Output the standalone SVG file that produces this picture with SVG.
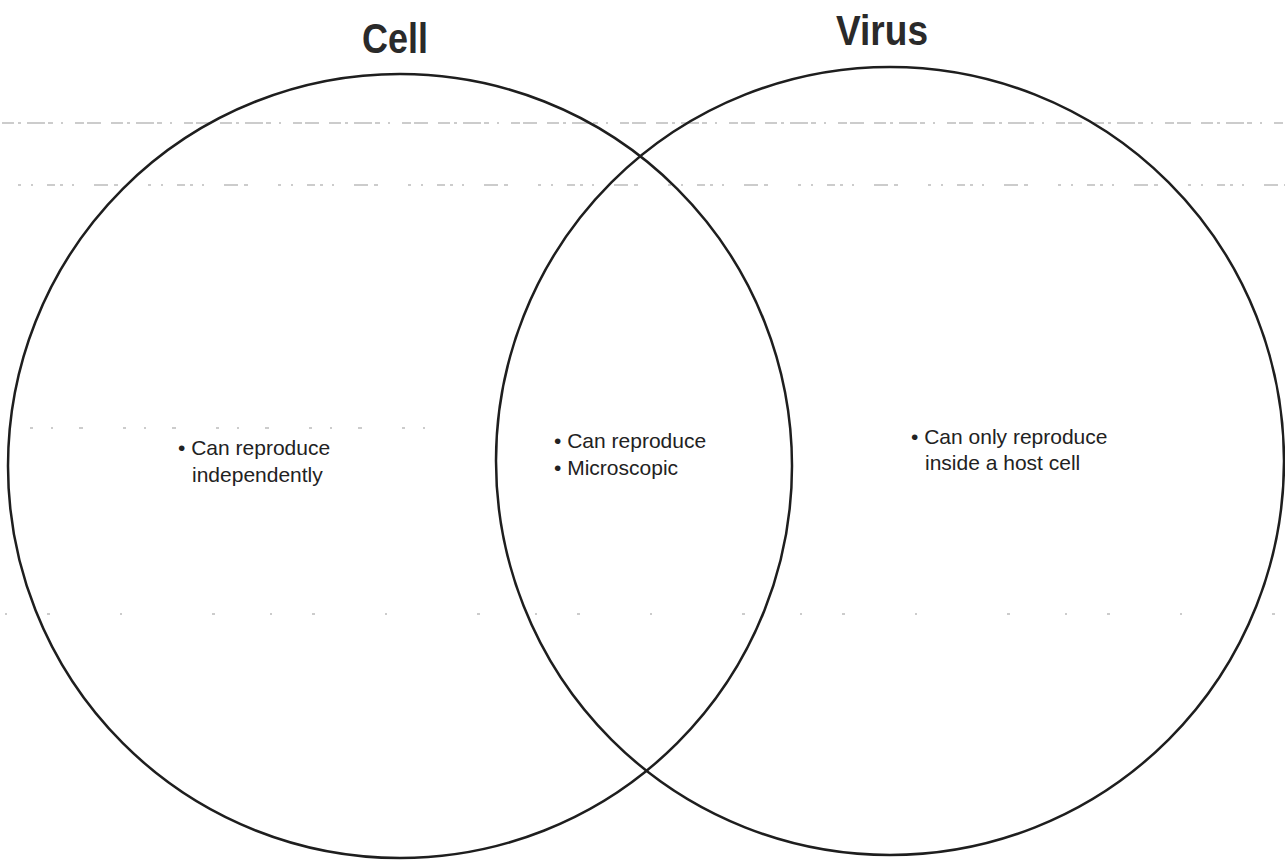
<svg xmlns="http://www.w3.org/2000/svg" width="1285" height="862" viewBox="0 0 1285 862">
<style>
.title{font-family:"Liberation Sans",Arial,sans-serif;font-weight:bold;font-size:42px;fill:#2a2a2a}
.body{font-family:"Liberation Sans",Arial,sans-serif;font-size:21px;fill:#222}
.circle{fill:none;stroke:#1e1e1e;stroke-width:2.5}
.scan{stroke:#9a9a9a;stroke-width:1.2;fill:none}
</style>
<rect width="1285" height="862" fill="#ffffff"/>
<g id="scanlines">
<line class="scan" x1="2" y1="123" x2="1285" y2="123" stroke-dasharray="12 4 3 6 18 3 5 8 2 12 9 3 14 10"/>
<line class="scan" x1="18" y1="185" x2="1285" y2="185" stroke-dasharray="3 10 2 14 8 5 3 9 2 20 14 6 4 30"/>
<line class="scan" x1="30" y1="428" x2="440" y2="428" stroke-dasharray="3 18 2 26 4 40"/>
<line class="scan" x1="5" y1="614" x2="1285" y2="614" stroke-dasharray="2 40 3 70 2 90 3 55"/>
</g>
<g id="cell">
<circle class="circle" cx="400" cy="466" r="392"/>
<text class="title" x="362" y="53" textLength="66" lengthAdjust="spacingAndGlyphs">Cell</text>
<text class="body" x="178" y="455">• Can reproduce</text>
<text class="body" x="192" y="482">independently</text>
</g>
<g id="virus">
<circle class="circle" cx="890" cy="461" r="394"/>
<text class="title" x="836" y="45" textLength="92" lengthAdjust="spacingAndGlyphs">Virus</text>
<text class="body" x="911" y="444">• Can only reproduce</text>
<text class="body" x="925" y="470">inside a host cell</text>
</g>
<g id="both">
<text class="body" x="554" y="448">• Can reproduce</text>
<text class="body" x="554" y="475">• Microscopic</text>
</g>
<g id="connectors"></g>
</svg>
